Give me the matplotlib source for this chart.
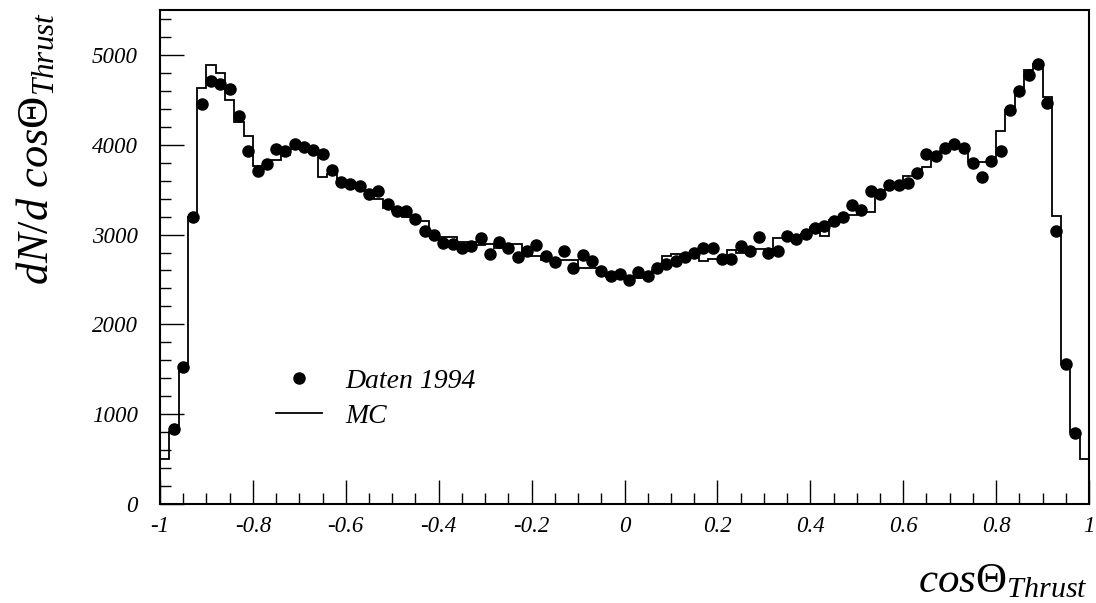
import numpy as np
import matplotlib
matplotlib.use('Agg')
import matplotlib.pyplot as plt
from matplotlib.ticker import MultipleLocator, FuncFormatter

# Binning of cos(theta_thrust): 100 bins from -1 to 1
bin_edges = np.linspace(-1.0, 1.0, 101)

# MC histogram content per bin
mc_counts = [
    504, 800, 1552, 3200, 4637, 4893, 4804, 4497, 4256, 4100,
    3760, 3760, 3830, 3885, 3950, 3975, 3920, 3640, 3670, 3600,
    3560, 3530, 3480, 3393, 3300, 3260, 3200, 3156, 3156, 3015,
    2970, 2970, 2922, 2922, 2885, 2897, 2848, 2897, 2897, 2756,
    2756, 2720, 2720, 2720, 2720, 2626, 2626, 2593, 2530, 2520,
    2500, 2515, 2515, 2600, 2756, 2785, 2756, 2756, 2708, 2726,
    2726, 2830, 2800, 2815, 2841, 2837, 2959, 2959, 2950, 3010,
    3089, 2985, 3163, 3200, 3219, 3256, 3256, 3496, 3552, 3552,
    3652, 3652, 3756, 3867, 3930, 3989, 3970, 3811, 3811, 3811,
    4148, 4385, 4607, 4830, 4904, 4533, 3211, 1563, 800, 504,
]

# Data 1994, bins 1..98 (first and last bin not shown)
data_counts = [
    830, 1530, 3190, 4459, 4707, 4681, 4619, 4322, 3930,
    3708, 3782, 3956, 3930, 4004, 3971, 3941, 3893, 3715, 3582,
    3563, 3541, 3456, 3482, 3344, 3267, 3263, 3171, 3041, 2997,
    2904, 2897, 2847, 2874, 2959, 2781, 2922, 2845, 2748, 2819,
    2882, 2756, 2697, 2822, 2622, 2771, 2711, 2597, 2533, 2556,
    2497, 2578, 2533, 2633, 2671, 2708, 2748, 2789, 2852, 2852,
    2733, 2733, 2867, 2819, 2971, 2797, 2815, 2985, 2948, 3004,
    3070, 3096, 3152, 3200, 3330, 3274, 3485, 3452, 3552, 3552,
    3578, 3682, 3896, 3878, 3959, 4007, 3959, 3800, 3637, 3822,
    3933, 4385, 4600, 4774, 4904, 4467, 3044, 1563, 793,
]

plt.rcParams['font.family'] = ['Liberation Serif', 'DejaVu Serif']
plt.rcParams['font.style'] = 'italic'
plt.rcParams['mathtext.fontset'] = 'custom'
plt.rcParams['mathtext.it'] = 'Liberation Serif:style=italic'
plt.rcParams['mathtext.rm'] = 'Liberation Serif:style=normal'
plt.rcParams['axes.unicode_minus'] = False

fig = plt.figure(figsize=(10.96, 6.03), dpi=100)
ax = fig.add_axes([160 / 1096, 99 / 603, 929 / 1096, 494 / 603])

centers = 0.5 * (bin_edges[:-1] + bin_edges[1:])

ax.stairs(mc_counts, bin_edges, color='black', linewidth=1.3, label='MC')
ax.plot(centers[1:-1], data_counts, 'o', color='black', markersize=8,
        linestyle='none', label='Daten 1994')

ax.set_xlim(-1, 1)
ax.set_ylim(0, 5500)

ax.xaxis.set_major_locator(MultipleLocator(0.2))
ax.xaxis.set_minor_locator(MultipleLocator(0.05))
ax.yaxis.set_major_locator(MultipleLocator(1000))
ax.yaxis.set_minor_locator(MultipleLocator(200))
ax.xaxis.set_major_formatter(FuncFormatter(lambda v, _: f'{v:g}' if abs(v) > 1e-9 else '0'))
ax.yaxis.set_major_formatter(FuncFormatter(lambda v, _: f'{v:.0f}'))

ax.tick_params(axis='both', which='both', direction='in', top=False, right=False, width=1)
ax.tick_params(axis='both', which='major', length=17, labelsize=16.5)
ax.tick_params(axis='both', which='minor', length=8)
ax.tick_params(axis='y', which='major', pad=16)
ax.tick_params(axis='x', which='major', pad=9)

for side in ax.spines.values():
    side.set_linewidth(1.5)

# Axis titles (ROOT style: x title at the right, y title at the top)
fig.text(36 / 1096, 1 - 12 / 603, r'$dN/d\ cos\mathrm{\Theta}_{Thrust}$', rotation=90,
         ha='center', va='top', fontsize=32)
fig.text(1088 / 1096, 1 - 601 / 603, r'$cos\mathrm{\Theta}_{Thrust}$',
         ha='right', va='bottom', fontsize=31)

# Legend: data first, then MC
handles, labels = ax.get_legend_handles_labels()
ax.legend(handles[::-1], labels[::-1], loc='upper left',
          bbox_to_anchor=((276 - 160) / 929, (504.7 - 369) / 494.7),
          frameon=False, fontsize=20, handlelength=1.65, handletextpad=0.85,
          labelspacing=0.33, borderpad=0, borderaxespad=0)

fig.savefig('out.png', dpi=100)
plt.close(fig)
